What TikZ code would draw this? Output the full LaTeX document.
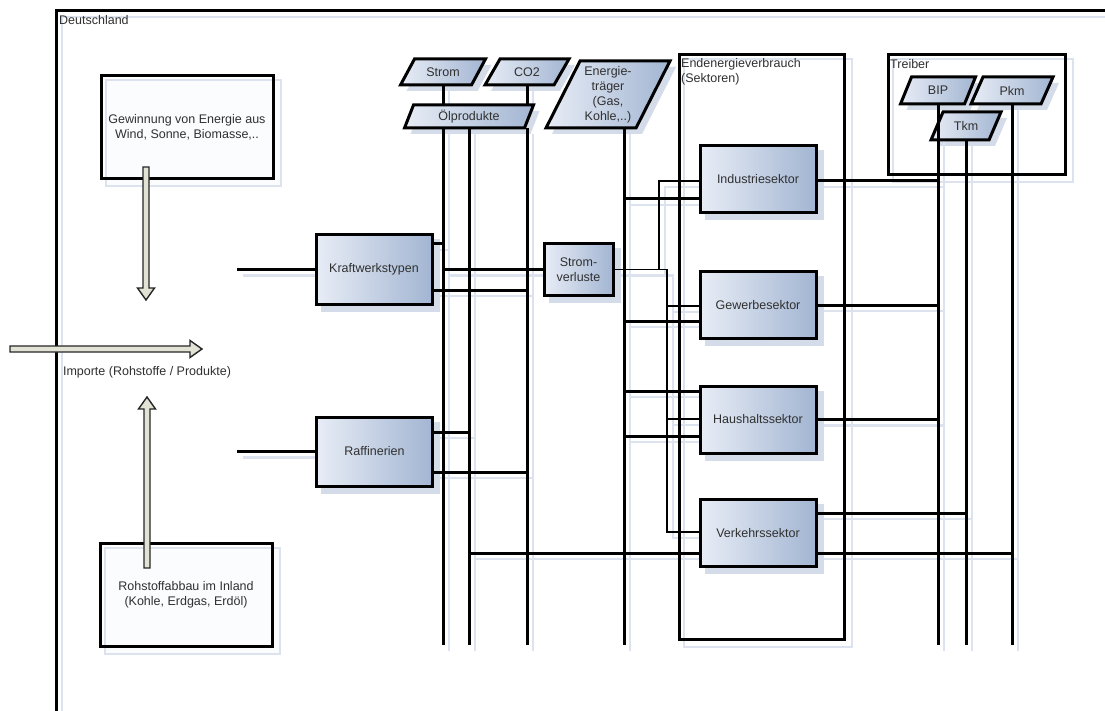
\documentclass[tikz,border=0pt]{standalone}
\usepackage{fontspec}
\setmainfont{Liberation Sans}
\usetikzlibrary{calc}
\pgfdeclarelayer{shd}
\pgfsetlayers{shd,main}
\definecolor{txt}{HTML}{303030}
\definecolor{shdc}{HTML}{D5DCE9}
\definecolor{shdl}{HTML}{DDE3EE}
\definecolor{boxL}{HTML}{E8EDF6}
\definecolor{boxR}{HTML}{A2B5D2}
\definecolor{arrfill}{HTML}{E2E2D5}
\definecolor{softfill}{HTML}{FBFCFE}
\tikzset{
 lbl/.style={font=\fontsize{12.5}{15}\selectfont, text=txt, align=center},
 shadedbox/.style={draw=black, line width=3pt, left color=boxL, right color=boxR, inner sep=0pt, lbl},
 sector/.style={shadedbox, minimum width=116pt, minimum height=67pt},
 plant/.style={shadedbox, minimum width=116pt, minimum height=69pt},
 plainbox/.style={draw=black, line width=3pt, minimum width=172pt, minimum height=103pt, inner sep=0pt, lbl},
 framebox/.style={draw=black, line width=3pt, inner sep=0pt, anchor=north west},
 cornerlbl/.style={lbl, align=left, anchor=north west, inner sep=0pt},
 parast/.style={draw=black, line width=3pt, left color=boxL, right color=boxR, line join=miter},
 wire/.style={draw=black, line width=3pt},
 thinwire/.style={draw=black, line width=1.6pt},
 wireshadow/.style={draw=shdl, line width=2.2pt, transform canvas={shift={(6,6)}}},
 hollow/.style={draw=black!85, line width=1.4pt, fill=arrfill, line join=miter},
}
\newcommand\Wire[2]{%
 \begin{pgfonlayer}{shd}\path[wireshadow] #2;\end{pgfonlayer}%
 \path[#1] #2;}
\newcommand\DrawPara[7]{%
 \begin{pgfonlayer}{shd}
 \fill[shdc] (#2+6,#3+6) ++({-#4/2+#6},{-#5/2}) -- ++(#4,0) -- ++({-2*#6},#5) -- ++({-#4},0) -- cycle;
 \end{pgfonlayer}
 \path[parast] (#2,#3) ++({-#4/2+#6},{-#5/2}) -- ++(#4,0) -- ++({-2*#6},#5) -- ++({-#4},0) -- cycle;
 \node[lbl, minimum width=#4pt, minimum height=#5pt, inner sep=0pt] (#1) at (#2,#3) {#7};
}
\begin{document}
\begin{tikzpicture}[x=1pt,y=-1pt]
\useasboundingbox (0,0) rectangle (1105,711);
\begin{pgfonlayer}{shd}
\fill[white] (0,0) rectangle (1105,711);
\draw[shdl, line width=2pt] (62,716) -- (62,17) -- (1105,17);
\end{pgfonlayer}
\clip (0,0) rectangle (1105,711);
% outer frame
\draw[line width=3pt] (56,716) -- (56,11) -- (1110,11);
\node[cornerlbl] (de) at (59,15) {Deutschland};

% white boxes
\node[plainbox] (wind) at (187,127.5) {Gewinnung von Energie aus\\Wind, Sonne, Biomasse,..};
\node[plainbox] (abbau) at (186,594.5) {Rohstoffabbau im Inland\\(Kohle, Erdgas, Erdöl)};
\node[lbl] (imp) at (147,372) {Importe (Rohstoffe / Produkte)};

% plants
\node[plant] (kw) at (374,269.5) {Kraftwerkstypen};
\node[plant] (raf) at (374.5,451.5) {Raffinerien};
\node[shadedbox, minimum width=69pt, minimum height=51pt] (sv) at (578.5,269.5) {Strom-\\verluste};

% frames
\node[framebox, minimum width=165pt, minimum height=585pt] (endv) at (678,53) {};
\node[cornerlbl] (endvl) at (681,58) {Endenergieverbrauch\\(Sektoren)};
\node[framebox, minimum width=177pt, minimum height=120pt] (treib) at (887,53) {};
\node[cornerlbl] (treibl) at (890,59) {Treiber};

% sectors
\node[sector] (ind) at (758,179) {Industriesektor};
\node[sector] (gew) at (758,305) {Gewerbesektor};
\node[sector] (hh) at (758,419.5) {Haushaltssektor};
\node[sector] (vk) at (758,533) {Verkehrssektor};

% parallelograms
\DrawPara{strom}{443}{72}{71}{26}{7}{Strom}
\DrawPara{co2}{527}{72}{69}{26}{7.5}{CO2}
\DrawPara{ol}{469}{116.5}{120}{23}{4.5}{Ölprodukte}
\DrawPara{et}{608}{94.5}{90}{67}{17}{Energie-\\träger\\(Gas,\\Kohle,..)}
\DrawPara{bip}{938}{90.5}{64}{27}{5.5}{BIP}
\DrawPara{pkm}{1012}{90.5}{70}{27}{6}{Pkm}
\DrawPara{tkm}{966}{126}{58}{28}{6}{Tkm}

% shadows of boxes
\begin{pgfonlayer}{shd}
\foreach \n in {kw,raf,sv,ind,gew,hh,vk}{\fill[shdc] ([shift={(6,6)}]\n.north west) rectangle ([shift={(6,6)}]\n.south east);}
\foreach \n in {wind,abbau}{\draw[shdl, fill=softfill, line width=2pt] ([shift={(6,6)}]\n.north west) rectangle ([shift={(6,6)}]\n.south east);}
\foreach \n in {endv,treib}{\draw[shdl, line width=2pt] ([shift={(6,6)}]\n.north west) rectangle ([shift={(6,6)}]\n.south east);}
\end{pgfonlayer}

% helper coordinates
\coordinate (busbot) at (0,645);
\coordinate (kwin) at (237,269.5);
\coordinate (rafin) at (237,451.5);
\coordinate (etout) at ([xshift=16pt]et.south);
\coordinate (svT) at (667,0);
\coordinate (svU) at (659,0);

% inputs
\Wire{wire}{(kwin) -- (kw.west)}
\Wire{wire}{(rafin) -- (raf.west)}

% buses
\Wire{wire}{(strom.south) -- (strom.south |- ol.north)}
\Wire{wire}{(strom.south |- ol.south) -- (strom.south |- busbot)}
\Wire{wire}{(ol.south) -- (ol.south |- busbot)}
\Wire{wire}{(co2.south) -- (co2.south |- ol.north)}
\Wire{wire}{(co2.south |- ol.south) -- (co2.south |- busbot)}
\Wire{wire}{(etout) -- (etout |- busbot)}
\Wire{wire}{(bip.south) -- (bip.south |- busbot)}
\Wire{wire}{(tkm.south) -- (tkm.south |- busbot)}
\Wire{wire}{(pkm.south) -- (pkm.south |- busbot)}

% Kraftwerkstypen outputs
\Wire{wire}{(kw.east |- 0,244) -- (strom.south |- 0,244)}
\Wire{wire}{(kw.east |- 0,290) -- (co2.south |- 0,290)}
\Wire{wire}{(strom.south |- sv.west) -- (sv.west)}

% Raffinerien outputs
\Wire{wire}{(raf.east |- 0,432) -- (ol.south |- 0,432)}
\Wire{wire}{(raf.east |- 0,472) -- (co2.south |- 0,472)}

% Stromverluste to sectors
\Wire{thinwire}{(sv.east) -- (svT |- sv.east) -- (svT |- 0,532) -- (vk.west |- 0,532)}
\Wire{thinwire}{(svU |- sv.east) -- (svU |- 0,181) -- (ind.west |- 0,181)}
\Wire{thinwire}{(svT |- 0,306) -- (gew.west |- 0,306)}
\Wire{thinwire}{(svT |- 0,419) -- (hh.west |- 0,419)}

% Energietraeger to sectors
\Wire{wire}{(etout |- 0,199) -- (ind.west |- 0,199)}
\Wire{wire}{(etout |- 0,321) -- (gew.west |- 0,321)}
\Wire{wire}{(etout |- 0,391) -- (hh.west |- 0,391)}
\Wire{wire}{(etout |- 0,436) -- (hh.west |- 0,436)}

% Oelprodukte to Verkehr
\Wire{wire}{(ol.south |- 0,553) -- (vk.west |- 0,553)}

% sectors to drivers
\Wire{wire}{(ind.east |- 0,181) -- (bip.south |- 0,181)}
\Wire{wire}{(gew.east) -- (bip.south |- gew.east)}
\Wire{wire}{(hh.east) -- (bip.south |- hh.east)}
\Wire{wire}{(vk.east |- 0,513) -- (tkm.south |- 0,513)}
\Wire{wire}{(vk.east |- 0,553) -- (pkm.south |- 0,553)}

% hollow arrows
\coordinate (dtip) at (146,300);
\draw[hollow] (dtip) -- ++(8.5,-12) -- ++(-5.5,0) -- ++(0,-121) -- ++(-6,0) -- ++(0,121) -- ++(-5.5,0) -- cycle;
\coordinate (htip) at (202,349);
\draw[hollow] (htip) -- ++(-12,-8.5) -- ++(0,5.5) -- ++(-180,0) -- ++(0,6) -- ++(180,0) -- ++(0,5.5) -- cycle;
\coordinate (utip) at (147,397);
\draw[hollow] (utip) -- ++(8.5,12) -- ++(-5.5,0) -- ++(0,159) -- ++(-6,0) -- ++(0,-159) -- ++(-5.5,0) -- cycle;
\end{tikzpicture}
\end{document}
